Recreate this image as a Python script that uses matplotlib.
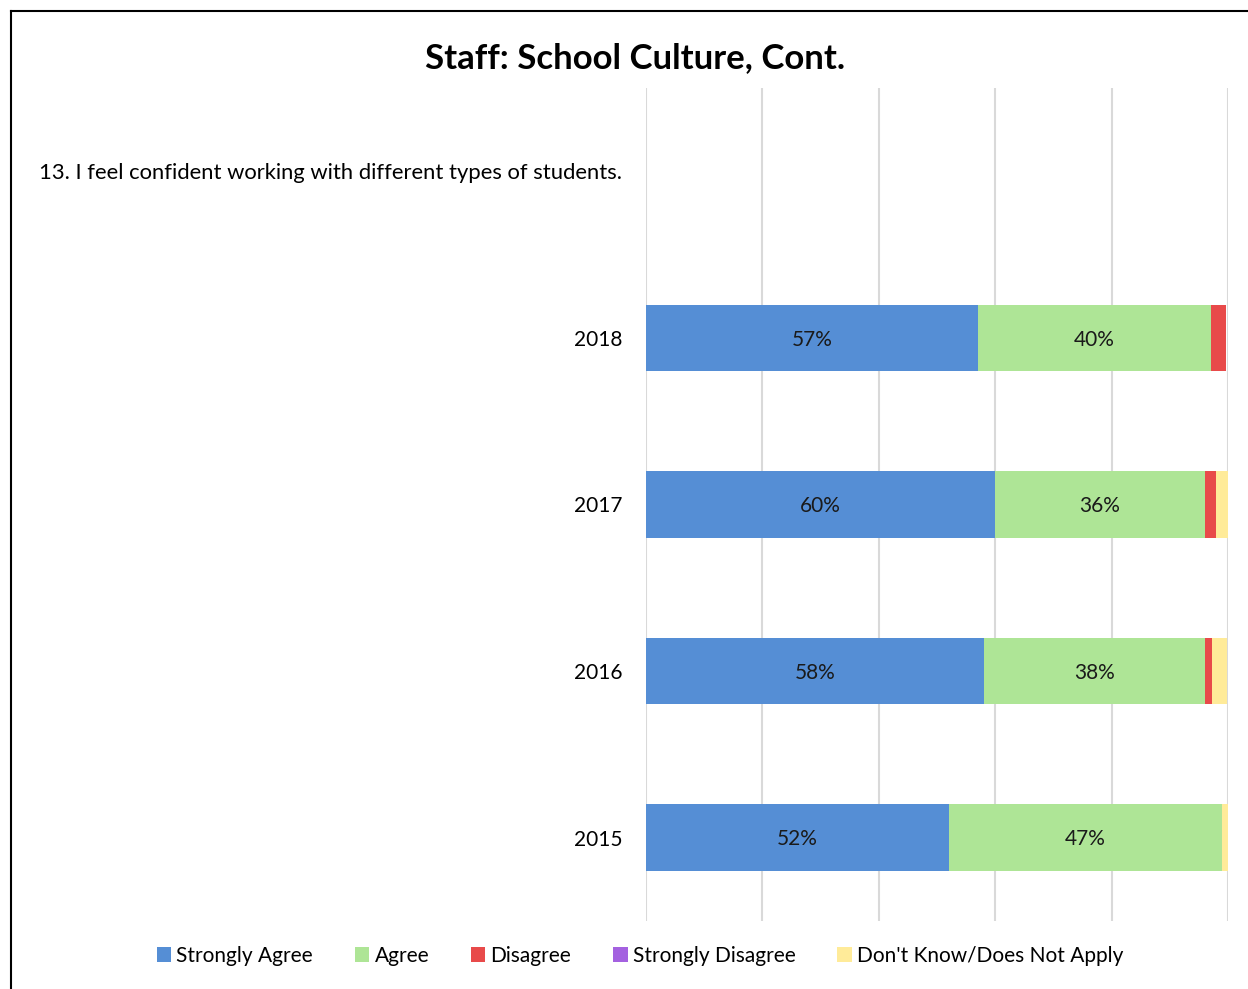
import numpy as np
import matplotlib
matplotlib.use('Agg')
import matplotlib.pyplot as plt
from matplotlib.patches import Patch

plt.rcParams['font.family'] = ['Lato', 'DejaVu Sans']

# data (percent of respondents)
categories = ['2015', '2016', '2017', '2018',
              '13. I feel confident working with different types of students.']
series = ['Strongly Agree', 'Agree', 'Disagree', 'Strongly Disagree',
          "Don't Know/Does Not Apply"]
strongly_agree = [52, 58, 60, 57, 0]
agree = [47, 38, 36, 40, 0]
disagree = [0, 1.2, 1.9, 2.7, 0]
strongly_disagree = [0, 0, 0, 0, 0]
dont_know = [1.4, 2.6, 2.4, 0, 0]
shown_labels = [['52%', '58%', '60%', '57%', ''],
                ['47%', '38%', '36%', '40%', '']]

colors = ['#558ED5', '#AEE596', '#E84A4A', '#A461E0', '#FFEB99']

fig = plt.figure(figsize=(12.48, 9.89), dpi=100)
fig.patch.set_facecolor('white')

# outer frame (top and left edges visible)
fig.add_artist(plt.Line2D([11 / 1248, 11 / 1248], [0, 1 - 11 / 989],
                          color='black', lw=1.5, transform=fig.transFigure))
fig.add_artist(plt.Line2D([11 / 1248, 1], [1 - 11 / 989, 1 - 11 / 989],
                          color='black', lw=1.5, transform=fig.transFigure))

ax = fig.add_axes([646 / 1248, 1 - 921 / 989, 582 / 1248, 833 / 989])

y = np.arange(len(categories))
left = np.zeros(len(categories))
all_vals = [strongly_agree, agree, disagree, strongly_disagree, dont_know]
for i, (vals, c) in enumerate(zip(all_vals, colors)):
    vals = np.array(vals, dtype=float)
    bars = ax.barh(y, vals, left=left, height=0.4, color=c, zorder=3)
    if i < 2:
        for j, b in enumerate(bars):
            if shown_labels[i][j]:
                ax.text(left[j] + vals[j] / 2, y[j] - 0.01, shown_labels[i][j],
                        ha='center', va='center', fontsize=15, color='#1a1a1a',
                        zorder=4)
    left += vals

ax.set_xlim(0, 100)
ax.set_ylim(-0.5, len(categories) - 0.5)
ax.set_xticks([0, 20, 40, 60, 80, 100])
ax.xaxis.grid(True, color='#D9D9D9', lw=1.5, zorder=0)
ax.tick_params(axis='x', length=0, labelbottom=False)
ax.tick_params(axis='y', length=0, pad=17, labelsize=15)
ax.set_yticks(y)
ax.set_yticklabels(categories)
ax.get_yticklabels()[-1].set_fontsize(15.8)
for s in ax.spines.values():
    s.set_visible(False)

fig.text(635 / 1248, 1 - 58 / 989, 'Staff: School Culture, Cont.',
         ha='center', va='center', fontsize=25, fontweight='bold')

handles = [Patch(facecolor=c, edgecolor='none') for c in colors]
fig.legend(handles, series, loc='center', bbox_to_anchor=(640 / 1248, 1 - 956 / 989),
           ncol=5, frameon=False, fontsize=15, handlelength=0.7, handleheight=0.7,
           handletextpad=0.25, columnspacing=2.0)

fig.savefig('out.png', dpi=100)
